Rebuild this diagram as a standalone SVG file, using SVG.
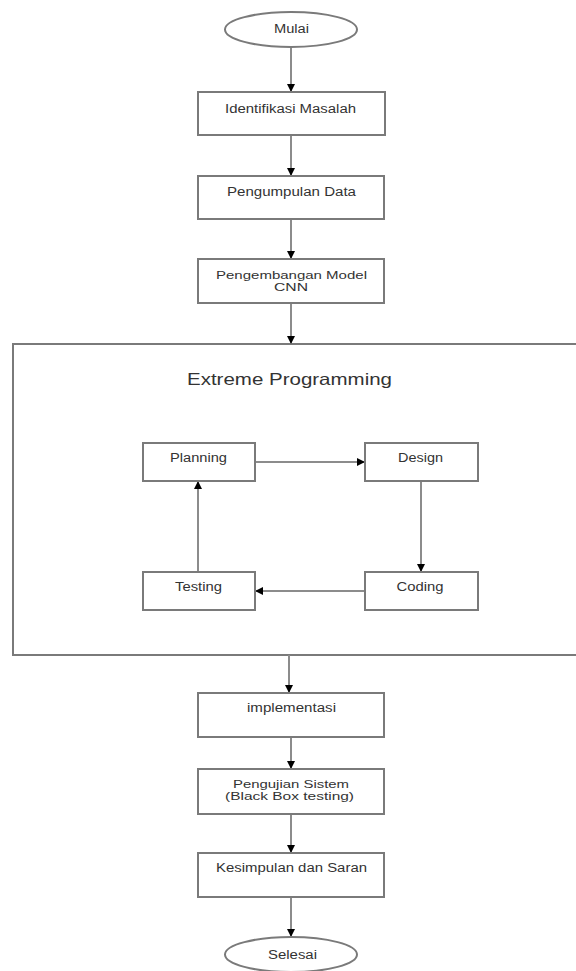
<svg xmlns="http://www.w3.org/2000/svg" width="576" height="971" viewBox="0 0 576 971">
<defs>
<marker id="ah" markerUnits="userSpaceOnUse" markerWidth="9" markerHeight="9" refX="8" refY="4" orient="auto">
<path d="M0,0 L8,4 L0,8 z" fill="#000"/>
</marker>
<style>
.box{fill:#fff;stroke:#7a7a7a;stroke-width:2}
.c{fill:none;stroke:#8c8c8c;stroke-width:2;marker-end:url(#ah)}
text{font-family:"Liberation Sans",Arial,sans-serif;font-size:12px;fill:#333;text-anchor:middle}
.t{font-size:16.5px}
.s{font-size:11px}
</style>
</defs>
<rect width="576" height="971" fill="#fff"/>
<g id="container">
<rect class="box" x="13" y="344" width="600" height="311"/>
<text class="t" x="289.5" y="385" textLength="205" lengthAdjust="spacingAndGlyphs">Extreme Programming</text>
</g>
<g id="connectors">
<line class="c" x1="291" y1="47" x2="291" y2="92"/>
<line class="c" x1="291" y1="135" x2="291" y2="176"/>
<line class="c" x1="291" y1="219" x2="291" y2="259"/>
<line class="c" x1="291" y1="303" x2="291" y2="344"/>
<line class="c" x1="289" y1="655" x2="289" y2="693"/>
<line class="c" x1="291" y1="737" x2="291" y2="769"/>
<line class="c" x1="291" y1="814" x2="291" y2="853"/>
<line class="c" x1="291" y1="897" x2="291" y2="937"/>
<line class="c" x1="256" y1="462" x2="365" y2="462"/>
<line class="c" x1="421" y1="481" x2="421" y2="572"/>
<line class="c" x1="365" y1="591" x2="255" y2="591"/>
<line class="c" x1="198" y1="572" x2="198" y2="481"/>
</g>
<g id="mulai">
<ellipse class="box" cx="291" cy="29.5" rx="66" ry="17.5"/>
<text x="291.5" y="33" textLength="35" lengthAdjust="spacingAndGlyphs">Mulai</text>
</g>
<g id="identifikasi">
<rect class="box" x="198" y="92" width="187" height="43"/>
<text x="290.5" y="112.5" textLength="131" lengthAdjust="spacingAndGlyphs">Identifikasi Masalah</text>
</g>
<g id="pengumpulan">
<rect class="box" x="198" y="176" width="186" height="43"/>
<text x="291.5" y="195.5" textLength="129" lengthAdjust="spacingAndGlyphs">Pengumpulan Data</text>
</g>
<g id="pengembangan">
<rect class="box" x="198" y="259" width="186" height="44"/>
<text class="s" x="291.5" y="278.5" textLength="151" lengthAdjust="spacingAndGlyphs">Pengembangan Model</text>
<text class="s" x="291" y="291" textLength="34" lengthAdjust="spacingAndGlyphs">CNN</text>
</g>
<g id="planning">
<rect class="box" x="143" y="443" width="112" height="38"/>
<text x="198.5" y="462" textLength="57" lengthAdjust="spacingAndGlyphs">Planning</text>
</g>
<g id="design">
<rect class="box" x="365" y="443" width="113" height="38"/>
<text x="420.5" y="462" textLength="45" lengthAdjust="spacingAndGlyphs">Design</text>
</g>
<g id="testing">
<rect class="box" x="143" y="572" width="112" height="38"/>
<text x="198.5" y="590.5" textLength="47" lengthAdjust="spacingAndGlyphs">Testing</text>
</g>
<g id="coding">
<rect class="box" x="365" y="572" width="113" height="38"/>
<text x="420" y="590.5" textLength="47" lengthAdjust="spacingAndGlyphs">Coding</text>
</g>
<g id="implementasi">
<rect class="box" x="198" y="693" width="186" height="44"/>
<text x="291.5" y="712" textLength="89" lengthAdjust="spacingAndGlyphs">implementasi</text>
</g>
<g id="pengujian">
<rect class="box" x="198" y="769" width="186" height="45"/>
<text class="s" x="291" y="787.5" textLength="116" lengthAdjust="spacingAndGlyphs">Pengujian Sistem</text>
<text class="s" x="289.5" y="800" textLength="129" lengthAdjust="spacingAndGlyphs">(Black Box testing)</text>
</g>
<g id="kesimpulan">
<rect class="box" x="198" y="853" width="186" height="44"/>
<text x="291.5" y="872" textLength="151" lengthAdjust="spacingAndGlyphs">Kesimpulan dan Saran</text>
</g>
<g id="selesai">
<ellipse class="box" cx="291" cy="954.5" rx="66" ry="17.5"/>
<text x="292.5" y="959" textLength="49" lengthAdjust="spacingAndGlyphs">Selesai</text>
</g>
</svg>
